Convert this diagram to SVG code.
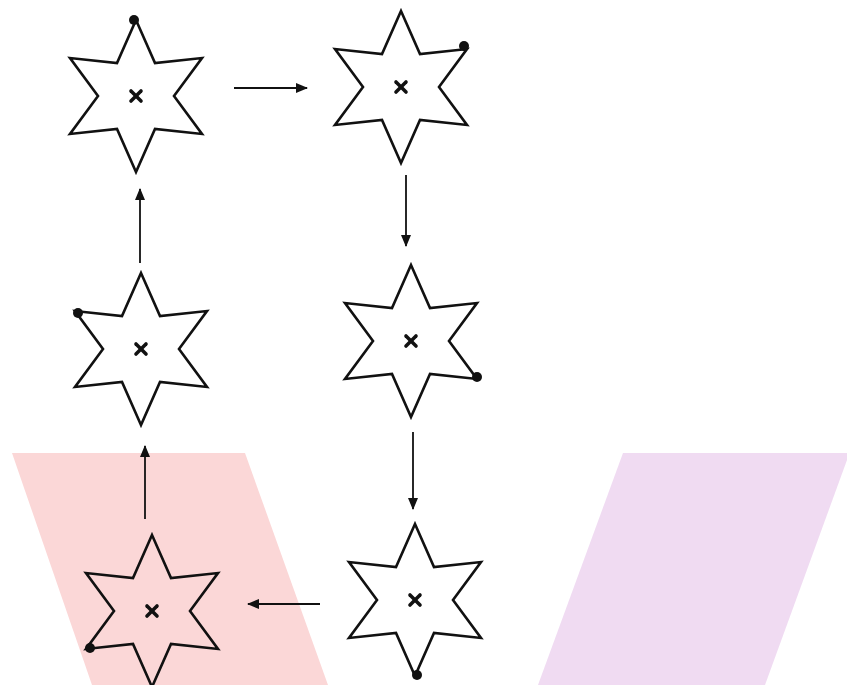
<svg xmlns="http://www.w3.org/2000/svg" xmlns:xlink="http://www.w3.org/1999/xlink" width="847" height="685" viewBox="0 0 847 685">
<style>
.star{fill:#ffffff;stroke:#111;stroke-width:2.6;stroke-linejoin:miter}
.cross{stroke:#111;stroke-width:3.6;stroke-linecap:round}
.dot{fill:#111}
.conn{stroke:#111;stroke-width:1.8;fill:none}
</style>
<defs>
<marker id="ah" viewBox="0 0 12 10" refX="11" refY="5" markerWidth="12" markerHeight="10" markerUnits="userSpaceOnUse" orient="auto">
<path d="M0,0 L12,5 L0,10 z" fill="#111"/>
</marker>
<path id="starShape" d="M0,-76 L19,-33 L66,-38 L38,0 L66,38 L19,33 L0,76 L-19,33 L-66,38 L-38,0 L-66,-38 L-19,-33 Z"/>
<g id="crossShape"><line x1="-5" y1="-5" x2="5" y2="5"/><line x1="5" y1="-5" x2="-5" y2="5"/></g>
</defs>
<rect width="847" height="685" fill="#ffffff"/>
<polygon points="12,453 245,453 328,685 92,685" fill="#fbd7d7"/>
<polygon points="623,453 847,453 847,460 765,685 538,685" fill="#f0dbf2"/>
<g id="connectors">
<line class="conn" x1="234" y1="88" x2="307" y2="88" marker-end="url(#ah)"/>
<line class="conn" x1="406" y1="175" x2="406" y2="246" marker-end="url(#ah)"/>
<line class="conn" x1="413" y1="432" x2="413" y2="509" marker-end="url(#ah)"/>
<line class="conn" x1="320" y1="604" x2="248" y2="604" marker-end="url(#ah)"/>
<line class="conn" x1="145" y1="519" x2="145" y2="446" marker-end="url(#ah)"/>
<line class="conn" x1="140" y1="263" x2="140" y2="189" marker-end="url(#ah)"/>
</g>
<g id="node1" transform="translate(136,96)">
<use xlink:href="#starShape" class="star"/>
<use xlink:href="#crossShape" class="cross"/>
<circle class="dot" cx="-2" cy="-76" r="5"/>
</g>
<g id="node2" transform="translate(401,87)">
<use xlink:href="#starShape" class="star"/>
<use xlink:href="#crossShape" class="cross"/>
<circle class="dot" cx="63" cy="-41" r="5"/>
</g>
<g id="node3" transform="translate(141,349)">
<use xlink:href="#starShape" class="star"/>
<use xlink:href="#crossShape" class="cross"/>
<circle class="dot" cx="-63" cy="-36" r="5"/>
</g>
<g id="node4" transform="translate(411,341)">
<use xlink:href="#starShape" class="star"/>
<use xlink:href="#crossShape" class="cross"/>
<circle class="dot" cx="66" cy="36" r="5"/>
</g>
<g id="node5" transform="translate(152,611)">
<use xlink:href="#starShape" class="star" style="fill:#fbd7d7"/>
<use xlink:href="#crossShape" class="cross"/>
<circle class="dot" cx="-62" cy="37" r="5"/>
</g>
<g id="node6" transform="translate(415,600)">
<use xlink:href="#starShape" class="star"/>
<use xlink:href="#crossShape" class="cross"/>
<circle class="dot" cx="2" cy="75" r="5"/>
</g>
</svg>
